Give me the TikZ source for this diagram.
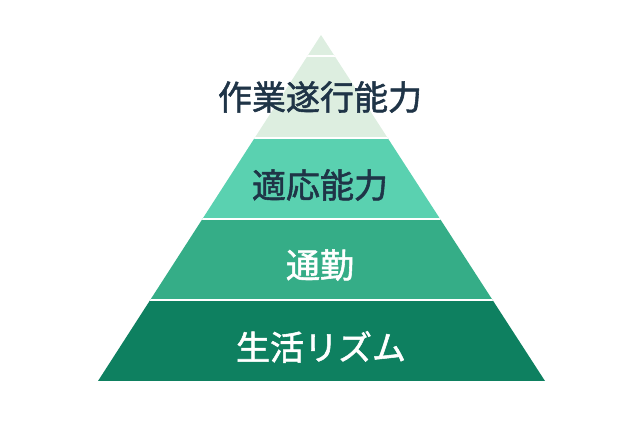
\documentclass[tikz,border=0pt]{standalone}
\usepackage{fontspec}
\newfontfamily\jp[BoldFont={Noto Sans CJK JP}, BoldFeatures={FakeBold=1.6}]{Noto Sans CJK JP}
\definecolor{tipc}{HTML}{DDEEE0}
\definecolor{lay2}{HTML}{5AD1B0}
\definecolor{lay3}{HTML}{35AD87}
\definecolor{lay4}{HTML}{0E8060}
\definecolor{navy}{HTML}{1F3447}
\tikzset{lbl/.style={font=\jp\bfseries\fontsize{34}{34}\selectfont, inner sep=0pt, anchor=center}}
\begin{document}
\begin{tikzpicture}[x=1pt,y=-1pt]
\useasboundingbox (0,0) rectangle (640,426);
\begin{scope}
\clip (321,35) -- (545,381) -- (98,381) -- cycle;
\fill[tipc] (0,0) rectangle (640,138);
\fill[lay2] (0,138) rectangle (640,219);
\fill[lay3] (0,219) rectangle (640,300);
\fill[lay4] (0,300) rectangle (640,381);
\foreach \y in {56,138,219,300} \draw[white,line width=2pt] (0,\y) -- (640,\y);
\end{scope}
\node[lbl,text=navy] (a) at (320,97) {作業遂行能力};
\node[lbl,text=navy] (b) at (320,185) {適応能力};
\node[lbl,text=white] (c) at (320,265) {通勤};
\node[lbl,text=white] (d) at (321,347) {生活リズム};
\end{tikzpicture}
\end{document}
